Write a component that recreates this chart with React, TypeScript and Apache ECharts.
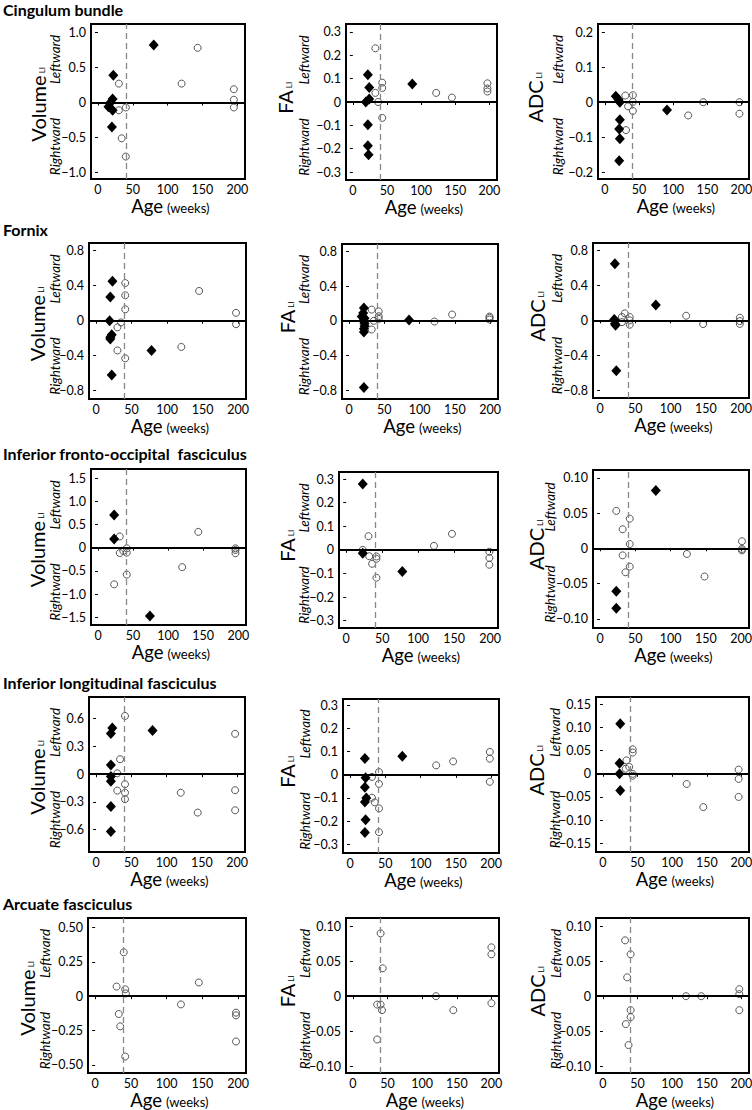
import React, { useEffect, useRef } from "react";
import * as echarts from "echarts";

const FONT = "Lato, 'Open Sans', sans-serif";

const sectionTitles = [
  "Cingulum bundle",
  "Fornix",
  "Inferior fronto-occipital  fasciculus",
  "Inferior longitudinal fasciculus",
  "Arcuate fasciculus",
];
const measureNames = ["Volume", "FA", "ADC"];
const ageTicks = [0, 50, 100, 150, 200];
const termAge = 40;

// ---------- Cingulum bundle ----------
const cingVolFilled = [[80, 0.82], [22, 0.39], [21, 0.05], [18, 0.0], [15, -0.06], [21, -0.11], [20, -0.35]];
const cingVolOpen = [[30, 0.27], [143, 0.78], [120, 0.27], [195, 0.19], [195, 0.04], [195, -0.07], [30, -0.11], [40, -0.07], [34, -0.51], [40, -0.77]];
const cingFaFilled = [[22, 0.117], [24, 0.062], [24, 0.013], [19, 0.0], [22, -0.097], [22, -0.187], [23, -0.226], [87, 0.077]];
const cingFaOpen = [[33, 0.23], [33, 0.039], [37, 0.0], [43, 0.083], [43, 0.06], [43, -0.068], [122, 0.039], [145, 0.019], [197, 0.08], [197, 0.058], [197, 0.045]];
const cingAdcFilled = [[16, 0.017], [20, 0.008], [22, 0.0], [22, -0.05], [21, -0.077], [22, -0.105], [21, -0.168], [91, -0.022]];
const cingAdcOpen = [[30, 0.019], [41, 0.02], [41, 0.001], [34, -0.012], [41, -0.025], [31, -0.08], [122, -0.038], [144, 0.0], [197, 0.0], [197, -0.033]];

// ---------- Fornix ----------
const fxVolFilled = [[23, 0.45], [20, 0.27], [19, 0.0], [22, -0.16], [20, -0.19], [20, -0.21], [22, -0.62], [78, -0.34]];
const fxVolOpen = [[41, 0.43], [41, 0.29], [41, 0.13], [35, -0.02], [30, -0.076], [30, -0.34], [41, -0.43], [120, -0.3], [145, 0.34], [197, 0.09], [197, -0.04]];
const fxFaFilled = [[21, 0.15], [20, 0.09], [18, 0.05], [22, 0.03], [20, 0.0], [22, -0.03], [22, -0.06], [21, -0.09], [21, -0.13], [21, -0.77], [85, 0.01]];
const fxFaOpen = [[32, 0.13], [32, -0.1], [35, 0.0], [42, 0.11], [42, 0.054], [42, 0.023], [121, -0.008], [146, 0.073], [199, 0.05], [199, 0.035], [199, 0.015]];
const fxAdcFilled = [[21, 0.645], [20, 0.01], [21, 0.0], [21, -0.04], [22, -0.057], [23, -0.576], [79, 0.174]];
const fxAdcOpen = [[35, 0.08], [31, 0.038], [31, -0.02], [42, 0.038], [42, 0.0], [42, -0.05], [122, 0.053], [146, -0.042], [198, 0.03], [198, -0.008], [198, -0.04]];

// ---------- Inferior fronto-occipital fasciculus ----------
const ifoVolFilled = [[23, 0.705], [23, 0.187], [74, -1.47]];
const ifoVolOpen = [[31, 0.24], [31, -0.115], [36, -0.07], [41, -0.014], [41, -0.108], [41, -0.58], [23, -0.79], [120, -0.42], [143, 0.34], [196, -0.014], [196, -0.05], [196, -0.12]];
const ifoFaFilled = [[23, 0.279], [23, -0.014], [78, -0.092]];
const ifoFaOpen = [[23, 0.0], [31, 0.058], [32, -0.027], [36, -0.059], [42, -0.028], [42, -0.038], [42, -0.118], [122, 0.017], [147, 0.068], [199, -0.008], [199, -0.034], [199, -0.063]];
const ifoAdcFilled = [[79, 0.082], [23, -0.061], [23, -0.085]];
const ifoAdcOpen = [[23, 0.053], [42, 0.042], [32, 0.027], [42, 0.006], [32, -0.01], [42, -0.026], [36, -0.034], [123, -0.008], [148, -0.04], [201, 0.01], [201, -0.001], [201, -0.003]];

// ---------- Inferior longitudinal fasciculus ----------
const ilfVolFilled = [[23, 0.5], [21, 0.44], [21, 0.1], [21, -0.025], [21, -0.076], [21, -0.35], [21, -0.62], [80, 0.473]];
const ilfVolOpen = [[41, 0.63], [34, 0.162], [30, 0.01], [30, -0.177], [41, -0.108], [41, -0.2], [41, -0.27], [120, -0.2], [144, -0.415], [197, 0.437], [197, -0.173], [197, -0.39]];
const ilfFaFilled = [[21, 0.071], [22, -0.013], [21, -0.054], [23, -0.1], [21, -0.117], [22, -0.194], [21, -0.249], [74, 0.08]];
const ilfFaOpen = [[31, -0.009], [31, -0.099], [35, -0.119], [41, 0.012], [41, -0.039], [41, -0.145], [41, -0.248], [122, 0.041], [146, 0.058], [198, 0.099], [198, 0.07], [198, -0.03]];
const ilfAdcFilled = [[25, 0.108], [24, 0.023], [24, 0.0], [25, -0.036]];
const ilfAdcOpen = [[34, 0.029], [33, 0.011], [38, 0.015], [43, 0.053], [43, 0.046], [43, 0.0], [43, -0.004], [121, -0.022], [145, -0.072], [196, 0.009], [196, -0.011], [196, -0.05]];

// ---------- Arcuate fasciculus ----------
const arcVolFilled: number[][] = [];
const arcVolOpen = [[30, 0.07], [33, -0.13], [35, -0.22], [40, 0.32], [42, 0.05], [43, 0.02], [42, -0.44], [120, -0.06], [145, 0.1], [197, -0.12], [197, -0.14], [197, -0.33]];
const arcFaFilled: number[][] = [];
const arcFaOpen = [[40, 0.09], [43, 0.04], [35, -0.012], [40, -0.012], [42, -0.02], [35, -0.062], [120, 0.0], [145, -0.02], [200, 0.07], [200, 0.06], [200, -0.01]];
const arcAdcFilled: number[][] = [];
const arcAdcOpen = [[32, 0.08], [35, 0.027], [40, 0.06], [40, -0.02], [40, -0.03], [33, -0.04], [37, -0.07], [120, 0.0], [142, 0.0], [197, 0.01], [197, 0.003], [197, -0.02]];

// ---------- tick labels ----------
const cingVolTicks = ["1.0", "0.5", "0", "−0.5", "−1.0"];
const cingFaTicks = ["0.3", "0.2", "0.1", "0", "−0.1", "−0.2", "−0.3"];
const cingAdcTicks = ["0.2", "0.1", "0", "−0.1", "−0.2"];
const fxTicks = ["0.8", "0.4", "0", "−0.4", "−0.8"];
const ifoVolTicks = ["1.5", "1.0", "0.5", "0", "−0.5", "−1.0", "−1.5"];
const ifoFaTicks = ["0.3", "0.2", "0.1", "0", "−0.1", "−0.2", "−0.3"];
const ifoAdcTicks = ["0.10", "0.05", "0", "−0.05", "−0.10"];
const ilfVolTicks = ["0.6", "0.3", "0", "−0.3", "−0.6"];
const ilfFaTicks = ["0.3", "0.2", "0.1", "0", "−0.1", "−0.2", "−0.3"];
const ilfAdcTicks = ["0.15", "0.10", "0.05", "0", "−0.05", "−0.10", "−0.15"];
const arcVolTicks = ["0.50", "0.25", "0", "−0.25", "−0.50"];
const arcFaTicks = ["0.10", "0.05", "0", "−0.05", "−0.10"];
const arcAdcTicks = ["0.10", "0.05", "0", "−0.05", "−0.10"];

// y-axis extents
const yRanges = [
  [-1.09, 1.12], [-0.334, 0.334], [-0.22, 0.224],
  [-0.895, 0.888], [-0.904, 0.889], [-0.886, 0.883],
  [-1.666, 1.694], [-0.331, 0.33], [-0.113, 0.111],
  [-0.841, 0.835], [-0.338, 0.328], [-0.169, 0.166],
  [-0.56, 0.57], [-0.11, 0.112], [-0.11, 0.112],
];
const xRange = [-10, 211];

const panels = [
  { open: cingVolOpen, filled: cingVolFilled, ticks: cingVolTicks },
  { open: cingFaOpen, filled: cingFaFilled, ticks: cingFaTicks },
  { open: cingAdcOpen, filled: cingAdcFilled, ticks: cingAdcTicks },
  { open: fxVolOpen, filled: fxVolFilled, ticks: fxTicks },
  { open: fxFaOpen, filled: fxFaFilled, ticks: fxTicks },
  { open: fxAdcOpen, filled: fxAdcFilled, ticks: fxTicks },
  { open: ifoVolOpen, filled: ifoVolFilled, ticks: ifoVolTicks },
  { open: ifoFaOpen, filled: ifoFaFilled, ticks: ifoFaTicks },
  { open: ifoAdcOpen, filled: ifoAdcFilled, ticks: ifoAdcTicks },
  { open: ilfVolOpen, filled: ilfVolFilled, ticks: ilfVolTicks },
  { open: ilfFaOpen, filled: ilfFaFilled, ticks: ilfFaTicks },
  { open: ilfAdcOpen, filled: ilfAdcFilled, ticks: ilfAdcTicks },
  { open: arcVolOpen, filled: arcVolFilled, ticks: arcVolTicks },
  { open: arcFaOpen, filled: arcFaFilled, ticks: arcFaTicks },
  { open: arcAdcOpen, filled: arcAdcFilled, ticks: arcAdcTicks },
];

// ---------- layout (pixels) ----------
const boxes = [
  [91, 24, 154, 155], [346, 24, 151, 156], [598, 24, 151, 155],
  [89, 243, 157, 156], [342, 244, 156, 155], [593, 243, 156, 155],
  [91, 469, 155, 156], [339, 472, 159, 156], [593, 470, 156, 158],
  [89, 697, 156, 155], [343, 699, 156, 154], [596, 697, 153, 155],
  [88, 918, 158, 155], [346, 918, 153, 155], [596, 918, 153, 155],
];
// [main label centre x, Leftward/Rightward centre x] relative to box left
const labelOffsets = [
  [-53, -36], [-61, -42], [-63, -40],
  [-52, -34], [-55, -38], [-56, -36],
  [-54, -36], [-52, -35], [-57, -43],
  [-52, -34], [-56, -38], [-60, -41],
  [-61, -43], [-59, -41], [-59, -40],
];
const titleY = [9, 229, 453, 682, 903];

const toNum = (s: string) => parseFloat(s.replace("−", "-"));

let measureCtx: CanvasRenderingContext2D | null = null;
function measure(s: string, size: number, style = "normal", weight = "normal") {
  if (!measureCtx) measureCtx = document.createElement("canvas").getContext("2d");
  if (!measureCtx) return s.length * size * 0.55;
  measureCtx.font = `${style} ${weight} ${size}px ${FONT}`;
  return measureCtx.measureText(s).width;
}

function txt(text: string, x: number, y: number, o: any = {}) {
  const align = o.align || "center";
  const va = o.va || "middle";
  return {
    type: "text",
    x,
    y,
    rotation: o.rotation || 0,
    silent: true,
    z: 10,
    style: {
      text,
      fill: "#000",
      fontSize: o.size || 12,
      fontFamily: FONT,
      fontWeight: o.weight || "normal",
      fontStyle: o.style || "normal",
      align,
      verticalAlign: va,
      textAlign: align,
      textVerticalAlign: va,
    },
  };
}

function buildOption() {
  const grid: any[] = [];
  const xAxis: any[] = [];
  const yAxis: any[] = [];
  const series: any[] = [];
  const graphic: any[] = [];

  sectionTitles.forEach((t, r) => {
    graphic.push(txt(t, 3, titleY[r], { align: "left", size: 16, weight: "bold" }));
  });

  panels.forEach((p, i) => {
    const col = i % 3;
    const [l, t, w, h] = boxes[i];
    const tickVals = p.ticks.map(toNum);
    grid.push({
      left: l, top: t, width: w, height: h,
      show: true, borderColor: "#000", borderWidth: 2, backgroundColor: "transparent",
      containLabel: false, outerBoundsMode: "none",
    });
    xAxis.push({
      type: "value", gridIndex: i, min: xRange[0], max: xRange[1],
      axisLine: { show: false }, splitLine: { show: false },
      axisTick: { show: true, length: 3, lineStyle: { color: "#000", width: 1 }, customValues: ageTicks },
      axisLabel: { show: true, customValues: ageTicks, color: "#000", fontSize: 12.5, fontFamily: FONT, margin: 4 },
    });
    yAxis.push({
      type: "value", gridIndex: i, min: yRanges[i][0], max: yRanges[i][1],
      axisLine: { show: false }, splitLine: { show: false },
      axisTick: { show: true, length: 3, lineStyle: { color: "#000", width: 1 }, customValues: tickVals },
      axisLabel: {
        show: true, customValues: tickVals, color: "#000", fontSize: 12.5, fontFamily: FONT, margin: 5,
        formatter: (v: number) => {
          let best = 0;
          tickVals.forEach((tv, k) => {
            if (Math.abs(tv - v) < Math.abs(tickVals[best] - v)) best = k;
          });
          return p.ticks[best];
        },
      },
    });
    series.push({
      type: "scatter", xAxisIndex: i, yAxisIndex: i, data: p.open,
      symbol: "circle", symbolSize: 7, silent: true, z: 3,
      itemStyle: { color: "rgba(0,0,0,0)", borderColor: "#555", borderWidth: 1, opacity: 1 },
      markLine: {
        silent: true, symbol: ["none", "none"], label: { show: false }, animation: false,
        data: [
          { yAxis: 0, lineStyle: { color: "#000", width: 2, type: "solid", opacity: 1 } },
          { xAxis: termAge, lineStyle: { color: "#888", width: 1.3, type: [6, 4], opacity: 1 } },
        ],
      },
    });
    series.push({
      type: "scatter", xAxisIndex: i, yAxisIndex: i, data: p.filled,
      symbol: "diamond", symbolSize: [10, 11], silent: true, z: 4,
      itemStyle: { color: "#000", opacity: 1 },
    });

    // labels
    const cx = l + w / 2;
    const cy = t + h / 2;
    const name = measureNames[col];
    const nameSize = 20;
    const nameW = measure(name, nameSize);
    const nameX = l + labelOffsets[i][0];
    const nameY = cy + (col === 0 ? 7 : 0);
    const liSize = 8;
    const liW = measure("LI", liSize);
    graphic.push(txt(name, nameX, nameY, { size: nameSize, rotation: Math.PI / 2 }));
    graphic.push(txt("LI", nameX + 4, nameY - nameW / 2 - 2 - liW / 2, { size: liSize, rotation: Math.PI / 2 }));
    const sideX = l + labelOffsets[i][1];
    graphic.push(txt("Leftward", sideX, cy - 42, { size: 13.5, style: "italic", rotation: Math.PI / 2 }));
    graphic.push(txt("Rightward", sideX, cy + 45, { size: 13.5, style: "italic", rotation: Math.PI / 2 }));
    graphic.push(txt("Age", cx - 5, t + h + 27, { size: 18.5, align: "right" }));
    graphic.push(txt("(weeks)", cx - 1, t + h + 29, { size: 13, align: "left" }));
  });

  return {
    animation: false,
    backgroundColor: "#fff",
    grid, xAxis, yAxis, series, graphic,
  };
}

export default function App() {
  const ref = useRef<HTMLDivElement>(null);
  useEffect(() => {
    if (!ref.current) return;
    const chart = echarts.init(ref.current, null, { renderer: "svg" });
    chart.setOption(buildOption() as any);
    return () => chart.dispose();
  }, []);
  return (
    <div
      ref={ref}
      style={{ position: "absolute", left: 0, top: 0, width: 752, height: 1110, background: "#fff" }}
    />
  );
}
